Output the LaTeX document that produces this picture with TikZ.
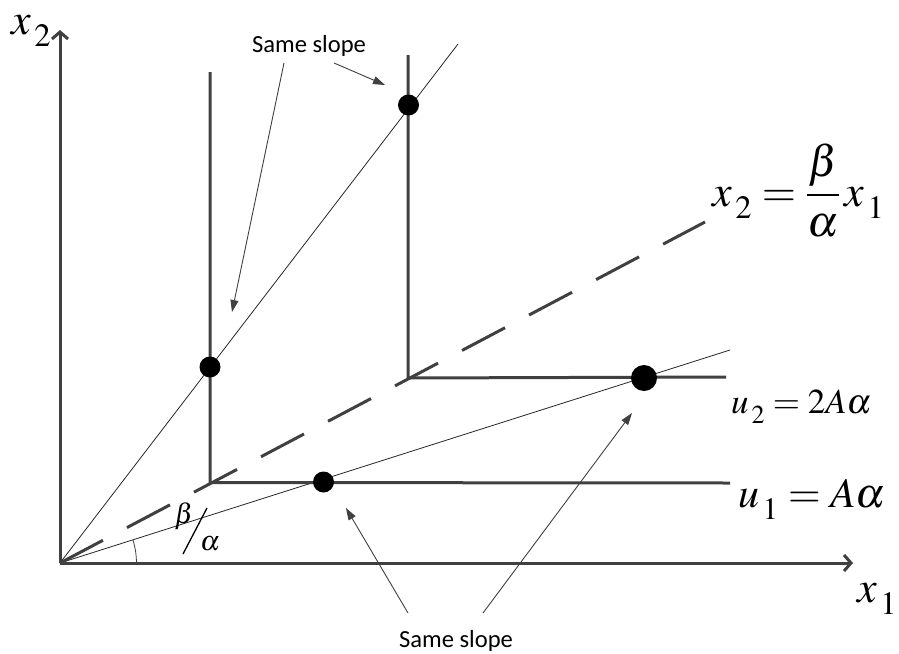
\documentclass[tikz,border=0pt]{standalone}
\usepackage{mathptmx}
\usepackage[no-math]{fontspec}
\newfontfamily\calib{Carlito}
\usetikzlibrary{arrows.meta}
\definecolor{lg}{HTML}{404040}
\newcommand\lsub[1]{_{\,\lower0.14em\hbox{$\scriptstyle#1$}}}
\begin{document}
\begin{tikzpicture}[x=1pt,y=-1pt,
  thickline/.style={draw=lg, line width=3pt},
  thinline/.style={draw=black!85, line width=0.8pt},
  axis/.style={draw=lg, line width=3pt, -{Straight Barb[length=7pt,width=16pt]}},
  callout/.style={draw=lg, line width=0.9pt, -{Triangle[length=12pt,width=8pt]}},
  dot/.style={circle, fill=black, inner sep=0pt, minimum size=21pt},
  lbl/.style={inner sep=0pt, anchor=base west},
  note/.style={inner sep=0pt, font=\calib\fontsize{24.6}{30}\selectfont}]
\useasboundingbox (0,0) rectangle (899,653);
% coordinates
\coordinate (O) at (60,563);
\coordinate (yend) at (60,30);
\coordinate (xend) at (853,563);
\coordinate (ray1) at (458,44);
\coordinate (ray2) at (730,350);
\coordinate (rayd) at (705,222);
\coordinate (c1) at (210,482.5);
\coordinate (c1top) at (210,72);
\coordinate (c1end) at (730,483);
\coordinate (c2) at (408,378);
\coordinate (c2top) at (408,55);
\coordinate (c2end) at (726,377);
% thin rays
\draw[thinline] (O) -- (ray1);
\draw[thinline] (O) -- (ray2);
% dashed ray
\draw[thickline, dash pattern=on 48.6pt off 27.2pt] (O) -- (rayd);
% isoquants
\draw[thickline] (c1top) -- (c1) -- (c1end);
\draw[thickline] (c2top) -- (c2) -- (c2end);
% axes
\draw[axis] (O) -- (yend);
\draw[axis] (O) -- (xend);
% angle arc
\draw[draw=lg, line width=0.8pt] (136.5,563) arc[start angle=0, end angle=-17.6, radius=76.5];
% dots
\node[dot] (d1) at (210,367) {};
\node[dot] (d2) at (408.5,105) {};
\node[dot] (d3) at (323.5,482) {};
\node[dot, minimum size=26pt] (d4) at (644,378) {};
% labels
\node[lbl, font=\fontsize{44}{48}\selectfont] (lx2) at (11,34) {$x\lsub{2}$};
\node[lbl, font=\fontsize{44}{48}\selectfont] (lx1) at (857,602) {$x\lsub{1}$};
\node[lbl, font=\fontsize{44}{50}\selectfont] (lray) at (712,206) {$x\lsub{2}=\displaystyle\frac{\beta}{\alpha}\,x\lsub{1}$};
\node[lbl, font=\fontsize{35}{40}\selectfont] (lu2) at (731,413) {$u\lsub{2}=2A\alpha$};
\node[lbl, font=\fontsize{42}{46}\selectfont] (lu1) at (738,507) {$u\lsub{1}=A\alpha$};
\node[inner sep=0pt, font=\fontsize{28}{32}\selectfont] (lb) at (184,516) {$\beta$};
\node[inner sep=0pt, font=\fontsize{28}{32}\selectfont] (la) at (210,544) {$\alpha$};
\coordinate (s1) at (207,508);
\coordinate (s2) at (183,554);
\draw[line width=1.3pt] (s1) -- (s2);
% notes
\node[note, anchor=base] (ntop) at (309,52) {Same slope};
\node[note, anchor=base] (nbot) at (456,647) {Same slope};
\coordinate (t1) at (284,63);
\coordinate (t2) at (334,63);
\coordinate (b1) at (408,613);
\coordinate (b2) at (483,613);
\coordinate (h1) at (232,312);
\coordinate (h2) at (385,85);
\coordinate (h3) at (346,508);
\coordinate (h4) at (632,413);
\draw[callout] (t1) -- (h1);
\draw[callout] (t2) -- (h2);
\draw[callout] (b1) -- (h3);
\draw[callout] (b2) -- (h4);
\end{tikzpicture}
\end{document}
